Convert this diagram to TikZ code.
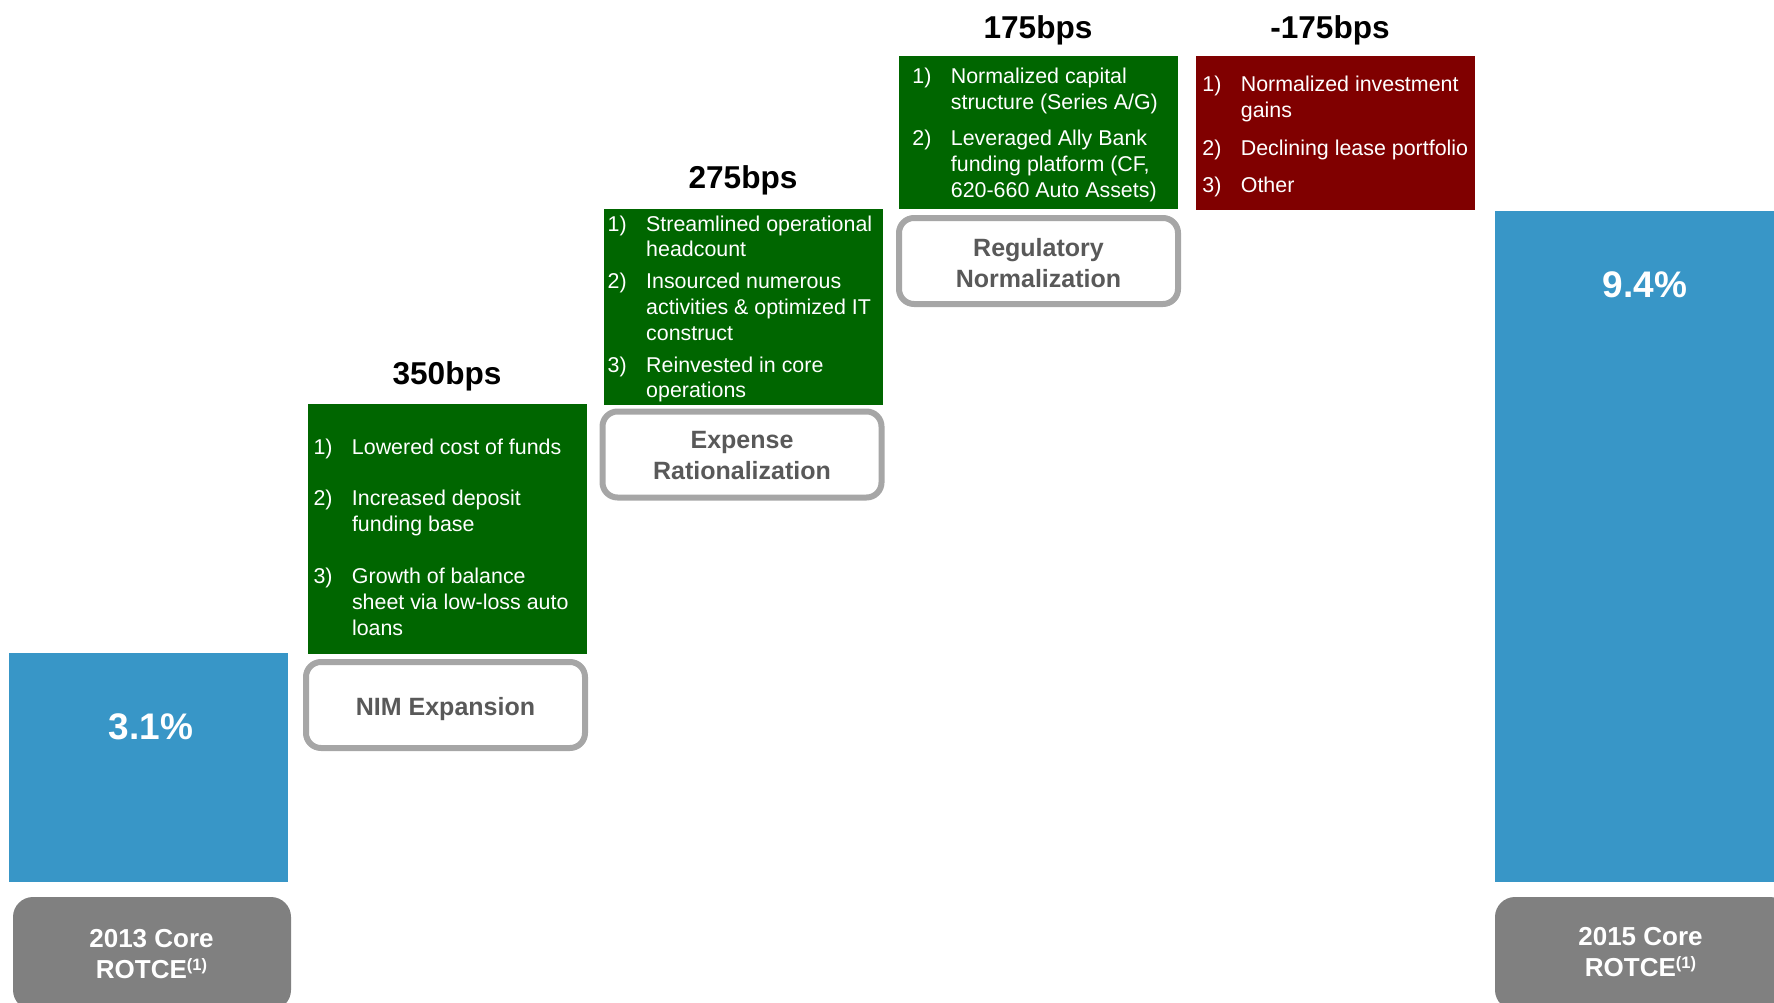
\documentclass[tikz,border=0pt]{standalone}
\usepackage{fontspec}
\setmainfont{Liberation Sans}

\definecolor{rotceblue}{RGB}{56,150,199}
\definecolor{gaingreen}{RGB}{0,102,0}
\definecolor{lossred}{RGB}{128,0,0}
\definecolor{tagfill}{RGB}{128,128,128}
\definecolor{tagline}{RGB}{166,166,166}
\definecolor{tagtext}{RGB}{89,89,89}

\newcommand{\bpsitem}[2]{\hangindent=38.5pt\hangafter=1\makebox[38.5pt][l]{#1}#2\par}
\newcommand{\bpslist}[2]{\parbox[t]{300pt}{\raggedright\setlength{\parskip}{#1}#2}}
\newcommand{\twolines}[2]{\parbox[t]{300pt}{\centering #1\\#2}}
\newcommand{\fnmark}{\raisebox{7.5pt}{\fontsize{16.5}{16.5}\selectfont(1)}}

\begin{document}
\begin{tikzpicture}[x=1pt, y=-1pt,
    rotcebar/.style={fill=rotceblue, inner sep=0pt, minimum width=279pt},
    rotcetag/.style={fill=tagfill, rounded corners=20pt, inner sep=0pt},
    driverbox/.style={inner sep=0pt, minimum width=279pt},
    leverbox/.style={draw=tagline, line width=6pt, fill=white, rounded corners=15pt,
      inner sep=0pt, minimum width=279pt, minimum height=86pt},
    bpslabel/.style={anchor=base, inner sep=0pt, font=\bfseries\fontsize{31.6}{38}\selectfont},
    pctlabel/.style={anchor=base, inner sep=0pt, text=white, font=\bfseries\fontsize{37}{44}\selectfont},
    taglabel/.style={anchor=base, inner sep=0pt, text=white, font=\bfseries\fontsize{26}{31}\selectfont},
    leverlabel/.style={anchor=base, inner sep=0pt, text=tagtext, font=\bfseries\fontsize{25}{31}\selectfont},
    reasonlist/.style={anchor=base west, inner sep=0pt, text=white, font=\fontsize{21.4}{25.8}\selectfont}]
  \clip (0,0) rectangle (1774,1003);

  % start and end of the bridge
  \node[rotcebar, minimum height=229pt] (startbar) at (148.5,767.5) {};
  \node[rotcebar, minimum height=671pt] (endbar) at (1634.5,546.5) {};
  \node[rotcetag, minimum width=278pt, minimum height=113pt] (starttag) at (152,953.5) {};
  \node[rotcetag, minimum width=295pt, minimum height=113pt] (endtag) at (1642.5,953.5) {};
  \node[pctlabel] (startpct) at (151,739) {3.1\%};
  \node[pctlabel] (endpct) at (1645,297) {9.4\%};
  \node[taglabel] (startyear) at (151.5,947) {\twolines{2013 Core}{ROTCE\fnmark}};
  \node[taglabel] (endyear) at (1640.5,945) {\twolines{2015 Core}{ROTCE\fnmark}};

  % drivers
  \node[driverbox, fill=gaingreen, minimum height=250pt] (nimbox) at (447.5,529) {};
  \node[driverbox, fill=gaingreen, minimum height=196pt] (expbox) at (743.5,307) {};
  \node[driverbox, fill=gaingreen, minimum height=153pt] (regbox) at (1038.5,132.5) {};
  \node[driverbox, fill=lossred, minimum height=154pt] (otherbox) at (1335.5,133) {};

  \node[bpslabel] (nimbps) at (447,384) {350bps};
  \node[bpslabel] (expbps) at (743,189) {275bps};
  \node[bpslabel] (regbps) at (1038,39) {175bps};
  \node[bpslabel] (otherbps) at (1330,39) {-175bps};

  \node[reasonlist] (nimlist) at (313.3,454) {\bpslist{26pt}{%
    \bpsitem{1)}{Lowered cost of funds}
    \bpsitem{2)}{Increased deposit\newline funding base}
    \bpsitem{3)}{Growth of balance\newline sheet via low-loss auto\newline loans}}};
  \node[reasonlist] (explist) at (607.5,231) {\bpslist{6pt}{%
    \bpsitem{1)}{Streamlined operational\newline headcount}
    \bpsitem{2)}{Insourced numerous\newline activities \& optimized IT\newline construct}
    \bpsitem{3)}{Reinvested in core\newline operations}}};
  \node[reasonlist] (reglist) at (912.2,84) {\bpslist{10.4pt}{%
    \bpsitem{1)}{Normalized capital\newline structure (Series A/G)}
    \bpsitem{2)}{Leveraged Ally Bank\newline funding platform (CF,\newline 620-660 Auto Assets)}}};
  \node[reasonlist] (otherlist) at (1202.2,92) {\bpslist{11.5pt}{%
    \bpsitem{1)}{Normalized investment\newline gains}
    \bpsitem{2)}{Declining lease portfolio}
    \bpsitem{3)}{Other}}};

  % lever names under the drivers
  \node[leverbox] (nimtag) at (445.5,705) {};
  \node[leverbox] (exptag) at (742,454.5) {};
  \node[leverbox] (regtag) at (1038.5,261) {};
  \node[leverlabel] (nimname) at (445.5,715) {NIM Expansion};
  \node[leverlabel] (expname) at (742,448.5) {\twolines{Expense}{Rationalization}};
  \node[leverlabel] (regname) at (1038.5,256.8) {\twolines{Regulatory}{Normalization}};
\end{tikzpicture}
\end{document}
